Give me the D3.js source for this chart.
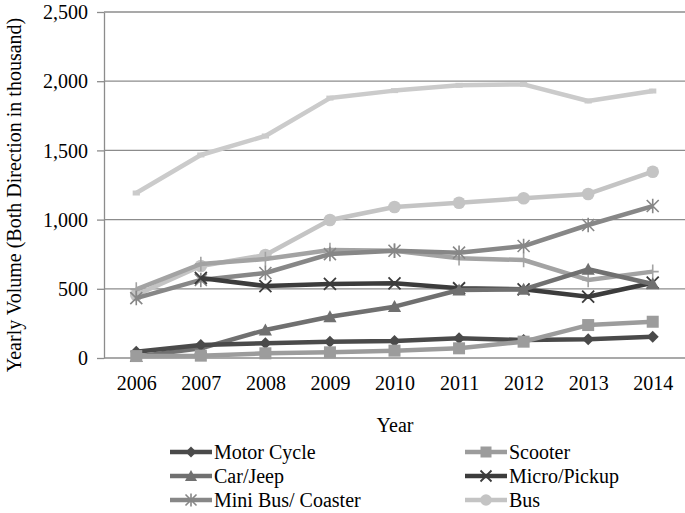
<!DOCTYPE html>
<html><head><meta charset="utf-8">
<script src="https://cdn.jsdelivr.net/npm/d3@7"></script>
<style>body{margin:0;background:#fff}text{font-family:"Liberation Serif","Times New Roman",serif}</style>
</head><body><svg id="c" width="685" height="513"></svg>
<script>
const years = ["2006","2007","2008","2009","2010","2011","2012","2013","2014"];
const yTicks = [0,500,1000,1500,2000,2500];
const seriesNames = ["Motor Cycle","Scooter","Car/Jeep","Micro/Pickup","Mini Bus/ Coaster","Bus","Series 7","Series 8"];
const motorCycle = [45,94,106,118,123,142,130,135,154];
const scooter = [14,17,34,41,53,70,118,238,262];
const carJeep = [10,70,202,298,371,491,496,641,535];
const microPickup = [null,578,520,535,540,504,496,443,544];
const miniBus = [433,564,614,751,775,761,809,961,1098];
const bus = [455,665,744,997,1091,1122,1154,1185,1346];
const series7 = [496,679,715,780,775,720,708,564,624];
const series8 = [1192,1467,1604,1878,1932,1970,1977,1857,1929];
const legendNames = ["Motor Cycle","Scooter","Car/Jeep","Micro/Pickup","Mini Bus/ Coaster","Bus"];

const values = [motorCycle,scooter,carJeep,microPickup,miniBus,bus,series7,series8];
const colors = ["#4a4a4a","#9c9c9c","#707070","#3c3c3c","#878787","#c4c4c4","#a3a3a3","#cbcbcb"];
const markers = ["diamond","square","triangle","x","asterisk","circle","plus","dash"];
const drawOrder = [7,5,6,4,3,2,0,1];

const svg = d3.select("#c");
const pL=104, pR=685, pT=12, pB=358;
const FS = 20;
const x = d3.scalePoint().domain(years).range([pL,pR]).padding(0.5);
const y = d3.scaleLinear().domain([0,2500]).range([pB,pT]);

// gridlines
svg.append("g").selectAll("line").data(yTicks.filter(d=>d>0)).join("line")
 .attr("x1",pL).attr("x2",pR).attr("y1",d=>y(d)).attr("y2",d=>y(d))
 .attr("stroke","#8c8c8c").attr("stroke-width",1.3);

// y axis
const ya = svg.append("g").attr("transform",`translate(${pL},0)`)
 .call(d3.axisLeft(y).tickValues(yTicks).tickFormat(d3.format(",")).tickSize(7).tickSizeOuter(0));
ya.select(".domain").attr("stroke","#8c8c8c").attr("stroke-width",1.3);
ya.selectAll(".tick line").attr("stroke","#8c8c8c").attr("stroke-width",1.3);
ya.selectAll(".tick text").attr("font-size",FS).attr("fill","#000").attr("x",-16).attr("dy","0.33em");

// x axis
const xa = svg.append("g").attr("transform",`translate(0,${pB})`)
 .call(d3.axisBottom(x).tickSize(0).tickSizeOuter(0));
xa.select(".domain").attr("stroke","#8c8c8c").attr("stroke-width",1.3).attr("d",`M${pL},0H${pR}`);
xa.selectAll(".tick text").attr("font-size",FS).attr("fill","#000").attr("y",0).attr("dy","1.6em");

// titles
svg.append("text").attr("x",395).attr("y",432).attr("text-anchor","middle").attr("font-size",FS).text("Year");
svg.append("text").attr("transform",`translate(21,${(pT+pB)/2+10}) rotate(-90)`).attr("text-anchor","middle").attr("font-size",FS).text("Yearly Volume (Both Direction in thousand)");

function marker(g, type, color, s){
  const r = s/2;
  if(type==="diamond") g.append("path").attr("d",`M0,${-r}L${r},0L0,${r}L${-r},0Z`).attr("fill",color);
  else if(type==="square") g.append("rect").attr("x",-r).attr("y",-r).attr("width",s).attr("height",s).attr("fill",color);
  else if(type==="triangle") g.append("path").attr("d",`M0,${-r*1.1}L${r*1.1},${r*0.9}L${-r*1.1},${r*0.9}Z`).attr("fill",color);
  else if(type==="circle") g.append("circle").attr("r",r*1.05).attr("fill",color);
  else if(type==="x") g.append("path").attr("d",`M${-r},${-r}L${r},${r}M${-r},${r}L${r},${-r}`).attr("stroke",color).attr("stroke-width",1.8);
  else if(type==="asterisk") g.append("path").attr("d",`M${-r},${-r}L${r},${r}M${-r},${r}L${r},${-r}M0,${-r*1.2}V${r*1.2}`).attr("stroke",color).attr("stroke-width",1.6);
  else if(type==="plus") g.append("path").attr("d",`M0,${-r*1.2}V${r*1.2}M${-r},0H${r}`).attr("stroke",color).attr("stroke-width",1.6);
  else if(type==="dash") g.append("path").attr("d",`M${-r*0.6},0H${r*0.6}`).attr("stroke",color).attr("stroke-width",5);
}

const line = d3.line().defined(d=>d.v!=null).x(d=>x(d.year)).y(d=>y(d.v));
drawOrder.forEach(i=>{
  const data = years.map((yr,j)=>({year:yr,v:values[i][j]}));
  const g = svg.append("g");
  g.append("path").datum(data).attr("d",line).attr("fill","none").attr("stroke",colors[i]).attr("stroke-width",4.5).attr("stroke-linejoin","round");
  data.filter(d=>d.v!=null).forEach(d=>{
    const m = g.append("g").attr("transform",`translate(${x(d.year)},${y(d.v)})`);
    marker(m, markers[i], colors[i], 12);
  });
});

// legend
const lg = svg.append("g");
legendNames.forEach((name,k)=>{
  const i = seriesNames.indexOf(name);
  const col = k%2, row = Math.floor(k/2);
  const lx = col===0 ? 170 : 465, ly = 452 + row*24;
  const g = lg.append("g").attr("transform",`translate(${lx},${ly})`);
  g.append("line").attr("x1",0).attr("x2",42).attr("stroke",colors[i]).attr("stroke-width",4.5);
  const m = g.append("g").attr("transform","translate(21,0)");
  marker(m, markers[i], colors[i], 11);
  g.append("text").attr("x",44).attr("y",0).attr("dy","0.33em").attr("font-size",FS).text(name);
});
</script></body></html>
